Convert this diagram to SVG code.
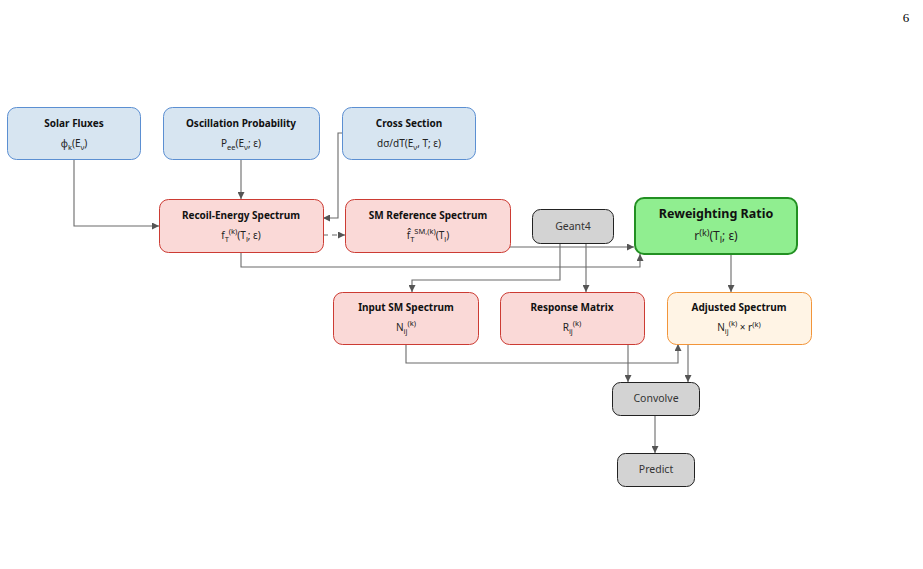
<svg xmlns="http://www.w3.org/2000/svg" width="923" height="569" viewBox="0 0 923 569">
<defs>
<style>
.t{font-family:"Noto Sans","DejaVu Sans",sans-serif;font-size:10px;font-weight:bold;fill:#111;text-anchor:middle}
.f{font-family:"Noto Sans","DejaVu Sans",sans-serif;font-size:10px;fill:#222;text-anchor:middle}
.s{font-size:7.5px}
.g{font-family:"Noto Sans","DejaVu Sans",sans-serif;font-size:10.5px;fill:#333;text-anchor:middle}
.big{font-size:12.5px}
.bigf{font-size:12px}
.bigs{font-size:9px}
.blue{fill:#d7e5f1;stroke:#5b8fd2;stroke-width:1}
.red{fill:#fad9d7;stroke:#cc3b33;stroke-width:1}
.green{fill:#90ee90;stroke:#229022;stroke-width:2}
.orange{fill:#fff4e5;stroke:#f2953a;stroke-width:1}
.gray{fill:#d3d3d3;stroke:#222;stroke-width:1}
.c{fill:none;stroke:#6a6a6a;stroke-width:1.1}
</style>
<marker id="a" viewBox="0 0 10 10" refX="10" refY="5" markerWidth="7" markerHeight="7" markerUnits="userSpaceOnUse" orient="auto">
<path d="M0,0 L10,5 L0,10 z" fill="#555"/>
</marker>
</defs>
<rect width="923" height="569" fill="#fff"/>
<text x="906" y="22" style="font-family:'Liberation Serif',serif;font-size:13px;fill:#000;text-anchor:middle">6</text>

<g id="connectors">
<path class="c" d="M74,159 V226 H159" marker-end="url(#a)"/>
<path class="c" d="M241,159 V199" marker-end="url(#a)"/>
<path class="c" d="M342,133 H338 V218 H323" marker-end="url(#a)"/>
<path class="c" d="M323,235 H345" stroke-dasharray="5,4" marker-end="url(#a)"/>
<path class="c" d="M510,247 H634" marker-end="url(#a)"/>
<path class="c" d="M241,252 V267 H640 V254" marker-end="url(#a)"/>
<path class="c" d="M560,243 V280 H412 V292" marker-end="url(#a)"/>
<path class="c" d="M586,243 V292" marker-end="url(#a)"/>
<path class="c" d="M731,254 V292" marker-end="url(#a)"/>
<path class="c" d="M406,344 V363 H678 V344" marker-end="url(#a)"/>
<path class="c" d="M628,344 V382" marker-end="url(#a)"/>
<path class="c" d="M688,344 V382" marker-end="url(#a)"/>
<path class="c" d="M655,415 V453" marker-end="url(#a)"/>
</g>

<g id="solar-fluxes">
<rect class="blue" x="7.5" y="107.5" width="133" height="52" rx="9"/>
<text class="t" x="74" y="127">Solar Fluxes</text>
<text class="f" x="74" y="147">φ<tspan class="s" dy="2.5">k</tspan><tspan dy="-2.5">(E</tspan><tspan class="s" dy="2.5">ν</tspan><tspan dy="-2.5">)</tspan></text>
</g>

<g id="oscillation-probability">
<rect class="blue" x="163.5" y="107.5" width="156" height="52" rx="9"/>
<text class="t" x="241" y="127">Oscillation Probability</text>
<text class="f" x="241" y="147">P<tspan class="s" dy="2.5">ee</tspan><tspan dy="-2.5">(E</tspan><tspan class="s" dy="2.5">ν</tspan><tspan dy="-2.5">; ε)</tspan></text>
</g>

<g id="cross-section">
<rect class="blue" x="342.5" y="107.5" width="133" height="52" rx="9"/>
<text class="t" x="409" y="127">Cross Section</text>
<text class="f" x="409" y="147">dσ/dT(E<tspan class="s" dy="2.5">ν</tspan><tspan dy="-2.5">, T; ε)</tspan></text>
</g>

<g id="recoil-energy-spectrum">
<rect class="red" x="159.5" y="199.5" width="164" height="53" rx="9"/>
<text class="t" x="241" y="219">Recoil-Energy Spectrum</text>
<text class="f" x="241" y="239">f<tspan class="s" dy="2.5">T</tspan><tspan class="s" dy="-7.5">(k)</tspan><tspan dy="5">(T</tspan><tspan class="s" dy="2.5">l</tspan><tspan dy="-2.5">; ε)</tspan></text>
</g>

<g id="sm-reference-spectrum">
<rect class="red" x="345.5" y="199.5" width="165" height="53" rx="9"/>
<text class="t" x="428" y="219">SM Reference Spectrum</text>
<text class="f" x="428" y="239">f̂<tspan class="s" dy="2.5">T</tspan><tspan class="s" dy="-7.5">SM,(k)</tspan><tspan dy="5">(T</tspan><tspan class="s" dy="2.5">l</tspan><tspan dy="-2.5">)</tspan></text>
</g>

<g id="geant4">
<rect class="gray" x="532.5" y="209.5" width="81" height="34" rx="8"/>
<text class="g" x="573" y="230">Geant4</text>
</g>

<g id="reweighting-ratio">
<rect class="green" x="635" y="198" width="162" height="56" rx="9"/>
<text class="t big" x="716" y="218">Reweighting Ratio</text>
<text class="f bigf" x="716" y="240">r<tspan class="bigs" dy="-4.5">(k)</tspan><tspan dy="4.5">(T</tspan><tspan class="bigs" dy="2.5">l</tspan><tspan dy="-2.5">; ε)</tspan></text>
</g>

<g id="input-sm-spectrum">
<rect class="red" x="333.5" y="292.5" width="145" height="52" rx="9"/>
<text class="t" x="406" y="311">Input SM Spectrum</text>
<text class="f" x="406" y="331">N<tspan class="s" dy="2.5">ij</tspan><tspan class="s" dy="-7.5">(k)</tspan></text>
</g>

<g id="response-matrix">
<rect class="red" x="500.5" y="292.5" width="144" height="52" rx="9"/>
<text class="t" x="572" y="311">Response Matrix</text>
<text class="f" x="572" y="331">R<tspan class="s" dy="2.5">ij</tspan><tspan class="s" dy="-7.5">(k)</tspan></text>
</g>

<g id="adjusted-spectrum">
<rect class="orange" x="667.5" y="292.5" width="144" height="52" rx="9"/>
<text class="t" x="739" y="311">Adjusted Spectrum</text>
<text class="f" x="739" y="331">N<tspan class="s" dy="2.5">ij</tspan><tspan class="s" dy="-7.5">(k)</tspan><tspan dy="5"> × r</tspan><tspan class="s" dy="-4.5">(k)</tspan></text>
</g>

<g id="convolve">
<rect class="gray" x="612.5" y="382.5" width="87" height="33" rx="8"/>
<text class="g" x="656" y="402">Convolve</text>
</g>

<g id="predict">
<rect class="gray" x="617.5" y="453.5" width="77" height="33" rx="8"/>
<text class="g" x="656" y="473">Predict</text>
</g>
</svg>
